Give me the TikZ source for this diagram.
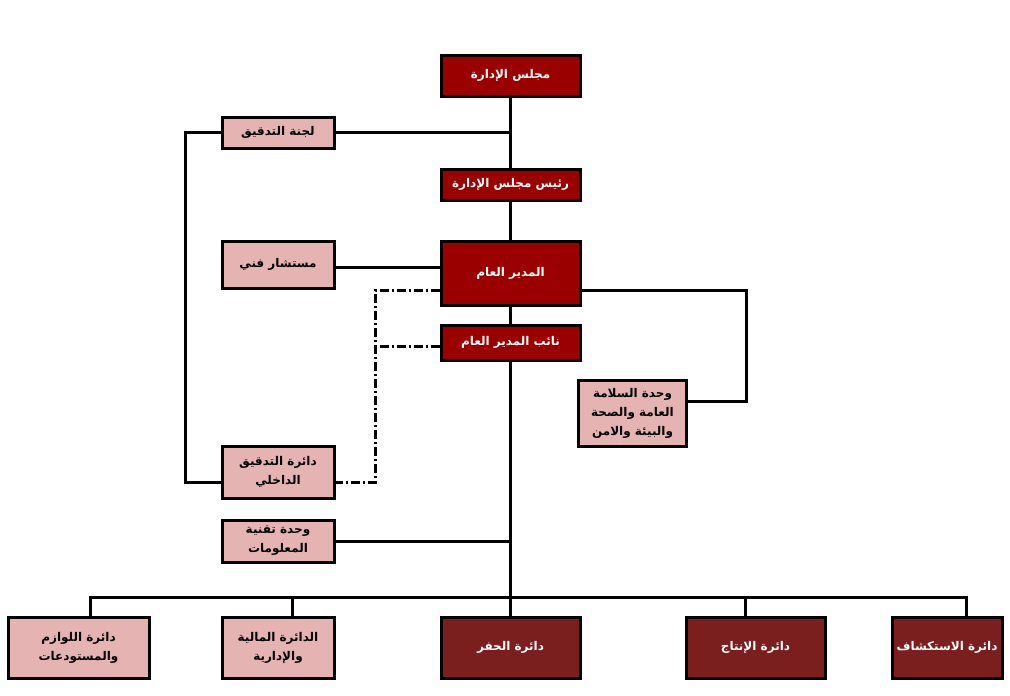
\documentclass[tikz,border=0pt]{standalone}
\usepackage{fontspec}
\newfontfamily\arabicfont[Script=Arabic]{DejaVu Sans}
\TeXXeTstate=1
\newcommand{\ar}[1]{{\arabicfont\beginR #1\endR}}
\definecolor{boardred}{HTML}{9A0000}
\definecolor{deptred}{HTML}{7A1E1E}
\definecolor{unitpink}{HTML}{E6B3B3}

\begin{document}
\begin{tikzpicture}[x=1pt,y=-1pt]
\tikzstyle{box}=[rectangle,draw,line width=3pt,align=center,inner sep=0pt,font=\bfseries\fontsize{12}{19}\selectfont]
\tikzstyle{head}=[box,fill=boardred,text=white,minimum width=139pt]
\tikzstyle{dept}=[box,fill=deptred,text=white,minimum height=61pt]
\tikzstyle{unit}=[box,fill=unitpink,minimum width=112pt]
\tikzstyle{every path}=[line width=3pt]
\useasboundingbox (0,0) rectangle (1010,696);
% top of the chart
\node[head,minimum height=41pt] (board) at (510.5,75.5) {\ar{مجلس الإدارة}};
\node[head,minimum height=31pt] (chair) at (510.5,184.5) {\ar{رئيس مجلس الإدارة}};
\node[head,minimum height=64pt] (gm) at (510.5,273) {\ar{المدير العام}};
\node[head,minimum height=35pt] (deputy) at (510.5,342.5) {\ar{نائب المدير العام}};
\node[unit,minimum height=31pt] (audit) at (278,132.5) {\ar{لجنة التدقيق}};
\node[unit,minimum height=47pt] (advisor) at (278,264.5) {\ar{مستشار فني}};
\node[unit,minimum width=108pt,minimum height=66pt] (safety) at (632.5,413) {\ar{وحدة السلامة}\\\ar{العامة والصحة}\\\ar{والبيئة والامن}};
\node[unit,minimum height=52pt] (intaudit) at (278,472) {\ar{دائرة التدقيق}\\\ar{الداخلي}};
\node[unit,minimum height=42pt] (it) at (278,541) {\ar{وحدة تقنية}\\\ar{المعلومات}};
% departments
\node[unit,minimum width=141pt,minimum height=61pt] (stores) at (78.5,647.5) {\ar{دائرة اللوازم}\\\ar{والمستودعات}};
\node[unit,minimum height=61pt] (finance) at (278,647.5) {\ar{الدائرة المالية}\\\ar{والإدارية}};
\node[dept,minimum width=139pt] (drill) at (510.5,647.5) {\ar{دائرة الحفر}};
\node[dept,minimum width=139pt] (prod) at (755.5,647.5) {\ar{دائرة الإنتاج}};
\node[dept,minimum width=110pt] (explore) at (947,647.5) {\ar{دائرة الاستكشاف}};
\coordinate (bus) at (510.5,597);
% connectors
\draw (board) -- (chair);
\draw (chair) -- (gm);
\draw (gm) -- (deputy);
\draw (deputy) -- (drill);
\draw (audit.east) -- (audit.east -| board);
\draw (audit.west) -- ++(-35,0) |- ([yshift=-10pt]intaudit.west);
\draw ([yshift=-3pt]advisor.east) -- ([yshift=-3pt]advisor.east -| gm.west);
\draw ([yshift=-17pt]gm.east) -| ++(165,0) |- ([yshift=12pt]safety.east);
\draw (it.east) -- (it.east -| deputy);
\draw[dash pattern=on 9pt off 3pt on 2pt off 3pt] ([yshift=-17pt]gm.west) -- ++(-64,0) |- ([yshift=-10pt]intaudit.east);
\draw[dash pattern=on 9pt off 3pt on 2pt off 3pt] ([yshift=-4pt]deputy.west) -- ++(-64,0);
\foreach \n/\s in {stores/11.5,finance/14,prod/-10.5,explore/19}
  \draw ([xshift=\s pt]\n.north) |- (bus);
\end{tikzpicture}
\end{document}
